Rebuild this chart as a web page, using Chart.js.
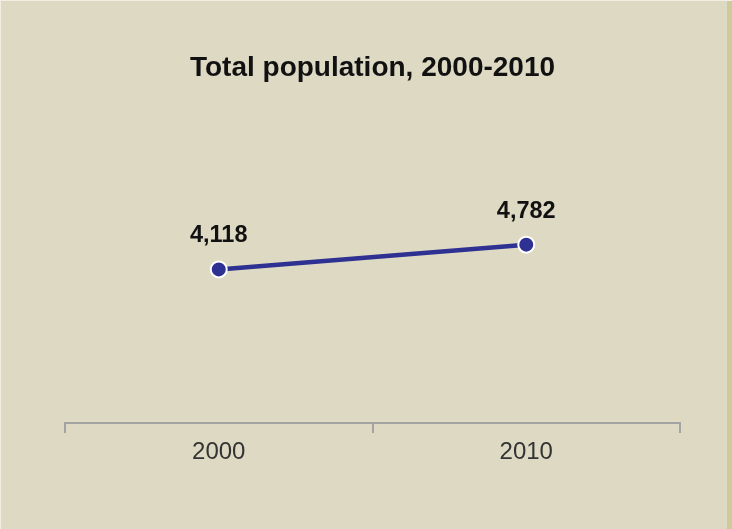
<!DOCTYPE html>
<html>
<head>
<meta charset="utf-8">
<script src="https://cdn.jsdelivr.net/npm/chart.js@4/dist/chart.umd.min.js"></script>
<style>
  html, body { margin: 0; padding: 0; }
  body { width: 732px; height: 529px; overflow: hidden;
    background:
      linear-gradient(to right, #f1efe5 0 1px, transparent 1px),
      linear-gradient(to bottom, #f1efe5 0 1px, transparent 1px),
      linear-gradient(to right, #ddd9c3 0 727px, #cdca9b 727px);
  }
  #wrap { position: absolute; left: 0; top: 0; width: 732px; height: 529px; }
</style>
</head>
<body>
<div id="wrap"><canvas id="c" width="732" height="529"></canvas></div>
<script>
const titleText = "Total population, 2000-2010";
const categories = ["2000", "2010"];
const population = [4118, 4782];
const yMin = 0;
const yMax = 8500;

const valueLabels = {
  id: 'valueLabels',
  afterDatasetsDraw(chart) {
    const ctx = chart.ctx;
    const meta = chart.getDatasetMeta(0);
    ctx.save();
    ctx.font = 'bold 23.5px "Liberation Sans", Arial, sans-serif';
    ctx.fillStyle = '#111111';
    ctx.textAlign = 'center';
    ctx.textBaseline = 'alphabetic';
    meta.data.forEach((pt, i) => {
      const v = chart.data.datasets[0].data[i];
      ctx.fillText(v.toLocaleString('en-US'), pt.x, pt.y - 27);
    });
    ctx.restore();
  }
};

new Chart(document.getElementById('c'), {
  type: 'line',
  data: {
    labels: categories,
    datasets: [{
      data: population,
      borderColor: '#2e3192',
      borderWidth: 4.5,
      pointRadius: 8,
      pointHoverRadius: 8,
      pointBackgroundColor: '#2e3192',
      pointBorderColor: '#ffffff',
      pointBorderWidth: 2,
      tension: 0,
      fill: false
    }]
  },
  options: {
    responsive: false,
    animation: false,
    events: [],
    layout: { padding: { left: 65, right: 52, top: 0, bottom: 0 } },
    plugins: {
      legend: { display: false },
      tooltip: { enabled: false },
      title: {
        display: true,
        text: titleText,
        color: '#111111',
        font: { family: '"Liberation Sans", Arial, sans-serif', size: 28, weight: 'bold', lineHeight: '34px' },
        padding: { top: 51, bottom: 21 }
      }
    },
    scales: {
      x: {
        offset: true,
        grid: { offset: true, drawOnChartArea: false, drawTicks: true, tickLength: 10, color: '#a3a3a3', lineWidth: 2 },
        border: { display: true, color: '#a3a3a3', width: 2 },
        ticks: { color: '#333333', padding: 5, maxRotation: 0,
          font: { family: '"Liberation Sans", Arial, sans-serif', size: 24 } },
        afterFit(scale) { scale.height = 106; }
      },
      y: {
        display: false,
        min: yMin,
        max: yMax
      }
    }
  },
  plugins: [valueLabels]
});
</script>
</body>
</html>
